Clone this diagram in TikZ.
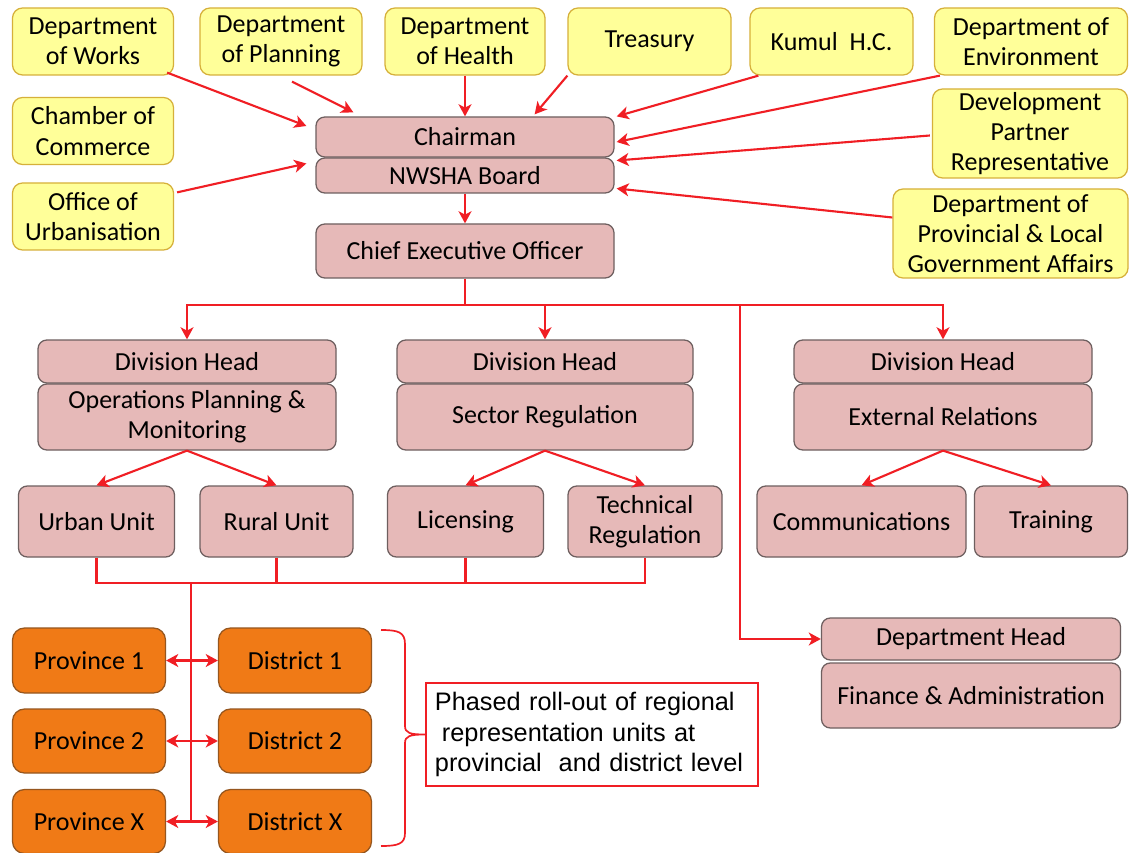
\documentclass[tikz,border=0pt]{standalone}
\usepackage{fontspec}
\setmainfont{Carlito}
\newfontfamily\notefont{Liberation Sans}
\usetikzlibrary{arrows.meta,calc}
\definecolor{linkred}{RGB}{240,30,36}
\definecolor{yelfill}{RGB}{255,255,153}
\definecolor{yelline}{RGB}{214,176,58}
\definecolor{pnkfill}{RGB}{230,185,184}
\definecolor{pnkline}{RGB}{110,95,95}
\definecolor{orgfill}{RGB}{240,122,22}
\definecolor{orgline}{RGB}{150,86,30}
\begin{document}
\begin{tikzpicture}[x=0.025cm,y=-0.025cm]
  \tikzstyle{every node}+=[inner sep=0pt, align=center, font=\fontsize{18.5}{21.5}\selectfont]
  \tikzset{sz/.style 2 args={minimum width=#1*0.025cm, minimum height=#2*0.025cm}}
  \tikzstyle{yel}=[draw=yelline, fill=yelfill, line width=0.9pt, rounded corners=0.25cm]
  \tikzstyle{pnk}=[draw=pnkline, fill=pnkfill, line width=0.9pt, rounded corners=0.22cm]
  \tikzstyle{org}=[draw=orgline, fill=orgfill, line width=0.9pt, rounded corners=0.3cm]
  \tikzstyle{link}=[draw=linkred, line width=1.5pt]
  \tikzstyle{arr}=[link, -{Stealth[length=0.3cm,width=0.32cm,inset=0.08cm]}]
  \tikzstyle{darr}=[link, {Stealth[length=0.3cm,width=0.32cm,inset=0.08cm]}-{Stealth[length=0.3cm,width=0.32cm,inset=0.08cm]}]
  \fill[white] (0,0) rectangle (1130,853);
  \useasboundingbox (0,0) rectangle (1130,853);
  \node[yel, sz={161}{67}] (works) at (93,41.5) {Department\\of Works};
  \node[yel, sz={162}{67}] (planning) at (281,41.5) {Department\\of Planning};
  \node[yel, sz={160}{67}] (health) at (465,41.5) {Department\\of Health};
  \node[yel, sz={163}{67}] (treasury) at (649.5,41.5) {Treasury};
  \node[yel, sz={163}{67}] (kumul) at (831.5,41.5) {Kumul\ \ H.C.};
  \node[yel, sz={193}{67}] (env) at (1031,41.5) {Department of\\Environment};
  \node[yel, sz={161}{67}] (chamber) at (93,131) {Chamber of\\Commerce};
  \node[yel, sz={161}{67}] (urbano) at (93,216.5) {Office of\\Urbanisation};
  \node[yel, sz={195}{89}] (dev) at (1030,133.5) {Development\\Partner\\Representative};
  \node[yel, sz={235}{89}] (prov) at (1010.5,233.5) {Department of\\Provincial \& Local\\Government Affairs};
  \node[pnk, sz={298}{40}] (chair) at (465,137) {Chairman};
  \node[pnk, sz={298}{35}] (board) at (465,175.5) {NWSHA Board};
  \node[pnk, sz={298}{54}] (ceo) at (465,251) {Chief Executive Officer};
  \node[pnk, sz={298}{43}] (dh1) at (187,361.5) {Division Head};
  \node[pnk, sz={298}{66}] (opm) at (187,417) {Operations Planning \&\\Monitoring};
  \node[pnk, sz={296}{43}] (dh2) at (545,361.5) {Division Head};
  \node[pnk, sz={296}{66}] (sector) at (545,417) {Sector Regulation};
  \node[pnk, sz={298}{43}] (dh3) at (943,361.5) {Division Head};
  \node[pnk, sz={298}{66}] (ext) at (943,417) {External Relations};
  \node[pnk, sz={156}{71}] (urban) at (96.5,521.5) {Urban Unit};
  \node[pnk, sz={153}{71}] (rural) at (276.5,521.5) {Rural Unit};
  \node[pnk, sz={156}{71}] (lic) at (465.5,521.5) {Licensing};
  \node[pnk, sz={154}{71}] (tech) at (645,521.5) {Technical\\Regulation};
  \node[pnk, sz={209}{71}] (comm) at (861.5,521.5) {Communications};
  \node[pnk, sz={153}{71}] (train) at (1051,521.5) {Training};
  \node[pnk, sz={299}{42}] (dept) at (971,639) {Department Head};
  \node[pnk, sz={299}{65}] (fin) at (971,695.5) {Finance \& Administration};
  \node[org, sz={153}{65}] (prov1) at (89,660.5) {Province 1};
  \node[org, sz={153}{65}] (dist1) at (295,660.5) {District 1};
  \node[org, sz={153}{64}] (prov2) at (89,741) {Province 2};
  \node[org, sz={153}{64}] (dist2) at (295,741) {District 2};
  \node[org, sz={153}{64}] (provx) at (89,821.5) {Province X};
  \node[org, sz={153}{64}] (distx) at (295,821.5) {District X};
  \node[draw=linkred, line width=1.3pt, sz={332}{103}, text width=7.85cm, inner xsep=0.225cm, align=left,
    font=\notefont\fontsize{18}{22}\selectfont] (note) at (592,734.5)
    {Phased roll-out of regional\\\hspace*{5pt}representation units at\\provincial\ \ and district level};
  \draw[arr] ($(works.south east)+(-7,-3)$) -- ($(chair.west)+(-9,-11)$);
  \draw[arr] ($(planning.south)+(11,6)$) -- ($(chair.north west)+(38,-4)$);
  \draw[arr] (health.south) -- (chair.north);
  \draw[arr] (treasury.south west) -- ($(chair.north east)+(-80,-2)$);
  \draw[arr] ($(kumul.south west)+(9,0)$) -- ($(chair.north east)+(2,0)$);
  \draw[arr] ($(env.south west)+(6,0)$) -- ($(chair.east)+(2,5)$);
  \draw[arr] ($(dev.west)+(-2,2)$) -- ($(board.east)+(2,-15)$);
  \draw[arr] ($(prov.west)+(0,-16)$) -- ($(board.east)+(2,13)$);
  \draw[arr] ($(urbano.north east)+(3,10)$) -- ($(board.west)+(-9,-12)$);
  \draw[arr] (board.south) -- (ceo.north);
  \coordinate (bus) at (465,305);
  \coordinate (drop) at (740,305);
  \draw[link] (ceo.south) -- (bus);
  \draw[arr] (bus) -| (dh1.north);
  \draw[arr] (bus) -| (dh2.north);
  \draw[arr] (bus) -| (dh3.north);
  \draw[arr] (drop) |- (dept.west);
  \draw[arr] (opm.south) -- (urban.north);
  \draw[arr] (opm.south) -- (rural.north);
  \draw[arr] (sector.south) -- (lic.north);
  \draw[arr] (sector.south) -- (tech.north);
  \draw[arr] (ext.south) -- (comm.north);
  \draw[arr] (ext.south) -- (train.north);
  \coordinate (ubus) at (191,583);
  \draw[link] (urban.south) |- (tech.south |- ubus) -- (tech.south);
  \draw[link] (rural.south) -- (rural.south |- ubus);
  \draw[link] (lic.south) -- (lic.south |- ubus);
  \draw[link] (ubus) -- (ubus |- provx.east);
  \draw[darr] (prov1.east) -- (dist1.west);
  \draw[darr] (prov2.east) -- (dist2.west);
  \draw[darr] (provx.east) -- (distx.west);
  \coordinate (tip) at (note.west);
  \draw[link, line width=1.2pt] (381,630) .. controls (398,630) and (405,632) .. (405,644) -- (405,726)
    .. controls (405,733) and (410,734.5) .. (tip)
    .. controls (410,734.5) and (405,736) .. (405,743) -- (405,833)
    .. controls (405,844) and (398,846) .. (381,846);
\end{tikzpicture}
\end{document}
